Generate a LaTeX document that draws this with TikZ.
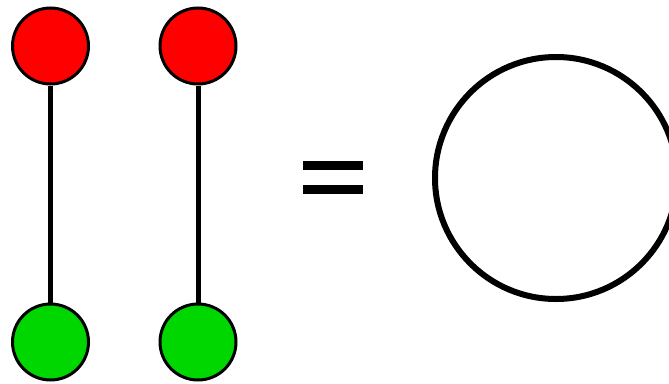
\documentclass[tikz,border=0pt]{standalone}
\definecolor{dotred}{RGB}{255,0,0}
\definecolor{dotgreen}{RGB}{0,214,0}
\tikzset{
  dot/.style={circle, draw=black, line width=3pt, minimum size=76pt, inner sep=0pt},
  reddot/.style={dot, fill=dotred},
  greendot/.style={dot, fill=dotgreen},
  edge/.style={line width=5pt},
  eqbar/.style={line width=9pt},
}
\begin{document}
\begin{tikzpicture}[x=1pt,y=-1pt]
\useasboundingbox (0,0) rectangle (669,383);
\clip (0,0) rectangle (669,383);
\node[reddot] (r1) at (50.5,46) {};
\node[reddot] (r2) at (198,46) {};
\node[greendot] (g1) at (50.5,342) {};
\node[greendot] (g2) at (198,342) {};
\draw[edge] (r1) -- (g1);
\draw[edge] (r2) -- (g2);
\coordinate (e1a) at (303,165.5);
\coordinate (e1b) at (363,165.5);
\coordinate (e2a) at (303,189.5);
\coordinate (e2b) at (363,189.5);
\draw[eqbar] (e1a) -- (e1b);
\draw[eqbar] (e2a) -- (e2b);
\node[circle, draw=black, line width=6pt, minimum size=242pt, inner sep=0pt] (big) at (556,178) {};
\end{tikzpicture}
\end{document}
